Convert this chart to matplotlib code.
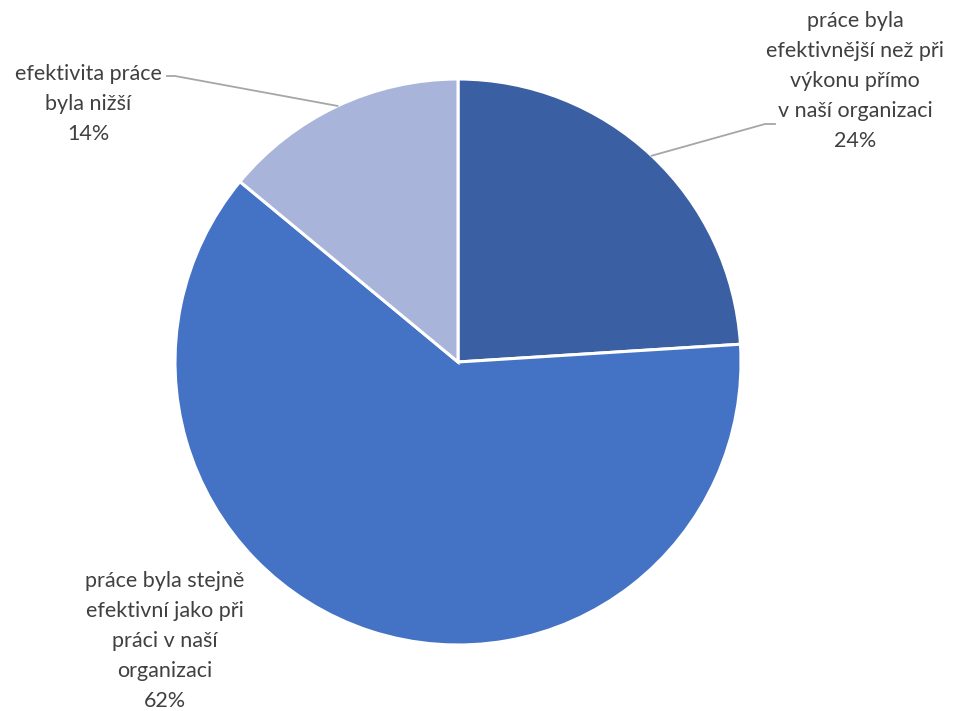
import matplotlib
matplotlib.use('Agg')
import matplotlib.pyplot as plt
import numpy as np

labels = ['práce byla\nefektivnější než při\nvýkonu přímo\nv naší organizaci',
          'práce byla stejně\nefektivní jako při\npráci v naší\norganizaci',
          'efektivita práce\nbyla nižší']
values = [24, 62, 14]
colors = ['#3A5FA2', '#4472C4', '#A8B4DA']

W, H = 955, 711
cx, cy, R = 458, 362, 283


def to_data(px, py):
    return (px - cx) / R, (cy - py) / R


fig = plt.figure(figsize=(W / 100, H / 100), dpi=100)
ax = fig.add_axes([0, 0, 1, 1])

wedges, _ = ax.pie(values, colors=colors, startangle=90, counterclock=False,
                   radius=1.0, wedgeprops=dict(edgecolor='white', linewidth=2.2))

# pie() resets the limits, so set them afterwards
ax.set_xlim(-cx / R, (W - cx) / R)
ax.set_ylim(-(H - cy) / R, cy / R)
ax.set_aspect('equal')
ax.axis('off')

# label centres (pixel) and leader line elbows
label_pos = [(855, 81), (165, 641), (88, 104)]
elbows = [[(775, 124), (765, 124)], None, [(167, 76), (175, 76)]]

for w, lab, v, pos, elb in zip(wedges, labels, values, label_pos, elbows):
    x, y = to_data(*pos)
    ax.text(x, y, '%s\n%d%%' % (lab, v), ha='center', va='center',
            fontsize=15.5, color='#404040', family='Lato', linespacing=1.62)
    if elb is not None:
        mid = np.deg2rad((w.theta1 + w.theta2) / 2)
        pts = [to_data(*p) for p in elb] + [(np.cos(mid), np.sin(mid))]
        xs, ys = zip(*pts)
        ax.plot(xs, ys, color='#A6A6A6', lw=1.3)

fig.savefig('out.png', dpi=100)
